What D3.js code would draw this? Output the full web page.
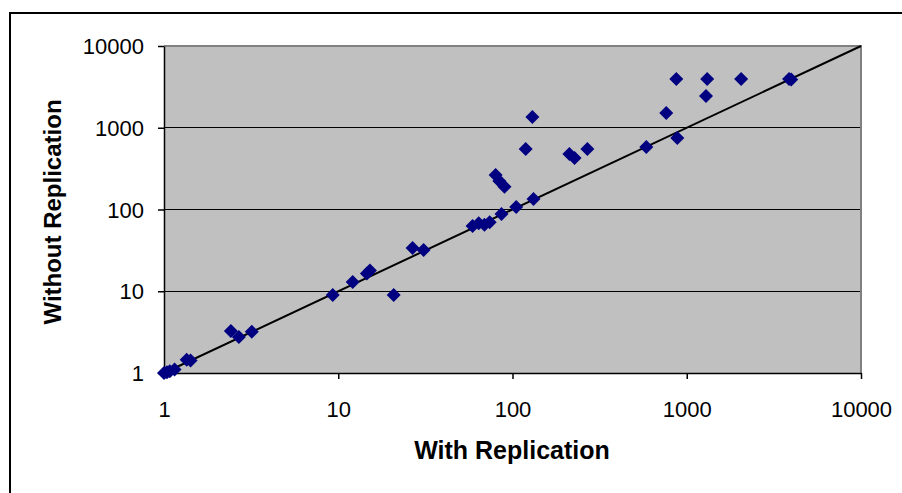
<!DOCTYPE html>
<html><head><meta charset="utf-8">
<script src="https://cdn.jsdelivr.net/npm/d3@7"></script>
<style>body{margin:0;background:#fff}svg{display:block}</style>
</head><body>
<script>
const withRep = [1,1.04,1.08,1.15,1.35,1.42,2.42,2.69,3.19,9.3,12.1,14.6,15.2,20.8,26.7,30.9,59,64,69,74,86.5,105,132,80,84,90,130,119,212,227,269,586,763,883,871,1310,1290,2052,3866,3980];
const withoutRep = [1,1.02,1.05,1.1,1.45,1.42,3.26,2.76,3.2,9.0,13.0,16.5,18,9.0,33.8,32,63,68,65,70,88,107,134,264,223,190,1350,550,477,426,550,582,1514,749,3950,3950,2444,3950,3950,3900];
const tickValues = [1,10,100,1000,10000];
const xTitle = "With Replication";
const yTitle = "Without Replication";

const W = 902, H = 493;
const svg = d3.select("body").append("svg").attr("width", W).attr("height", H);
svg.append("rect").attr("x",10).attr("y",13).attr("width",W).attr("height",H).attr("fill","none").attr("stroke","#000").attr("stroke-width",2);

const x = d3.scaleLog().domain([1,10000]).range([164,861]);
const y = d3.scaleLog().domain([1,10000]).range([373,46]);

svg.append("rect").attr("x",x(1)).attr("y",y(10000)).attr("width",x(10000)-x(1)).attr("height",y(1)-y(10000)).attr("fill","#c0c0c0");
svg.append("g").selectAll("line").data(tickValues.slice(1,4)).join("line")
  .attr("x1",x(1)).attr("x2",x(10000)).attr("y1",d=>y(d)).attr("y2",d=>y(d))
  .attr("stroke","#000").attr("stroke-width",1).attr("shape-rendering","crispEdges");
svg.append("path").attr("d",`M${x(1)},${y(10000)}H${x(10000)}V${y(1)}`).attr("fill","none").attr("stroke","#808080").attr("stroke-width",2);

const fmt = d3.format("d");
const xAxis = svg.append("g").attr("transform",`translate(0,${y(1)})`)
  .call(d3.axisBottom(x).tickValues(tickValues).tickFormat(fmt).tickSize(6).tickSizeOuter(0));
const yAxis = svg.append("g").attr("transform",`translate(${x(1)},0)`)
  .call(d3.axisLeft(y).tickValues(tickValues).tickFormat(fmt).tickSize(6).tickSizeOuter(0));
[xAxis,yAxis].forEach(a=>{
  a.selectAll("path,line").attr("stroke","#000").attr("stroke-width",1.5);
  a.selectAll("text").attr("font-family","Liberation Sans, Arial, sans-serif").attr("font-size",22).attr("fill","#000");
});
xAxis.selectAll("text").attr("dy","0").attr("y",44);
yAxis.selectAll("text").attr("x",-20).attr("dy","0.35em");

svg.append("line").attr("x1",x(1)).attr("y1",y(1)).attr("x2",x(10000)).attr("y2",y(10000)).attr("stroke","#000").attr("stroke-width",2);

const pts = withRep.map((v,i)=>[v,withoutRep[i]]);
const s = 7;
svg.append("g").selectAll("path").data(pts).join("path")
  .attr("d",d=>`M${x(d[0])},${y(d[1])-s}L${x(d[0])+s},${y(d[1])}L${x(d[0])},${y(d[1])+s}L${x(d[0])-s},${y(d[1])}Z`)
  .attr("fill","#000080");

svg.append("text").attr("x",512).attr("y",459).attr("text-anchor","middle")
  .attr("font-family","Liberation Sans, Arial, sans-serif").attr("font-weight","bold").attr("font-size",25).text(xTitle);
svg.append("text").attr("transform",`translate(61,212) rotate(-90)`).attr("text-anchor","middle")
  .attr("font-family","Liberation Sans, Arial, sans-serif").attr("font-weight","bold").attr("font-size",24).text(yTitle);
</script>
</body></html>
